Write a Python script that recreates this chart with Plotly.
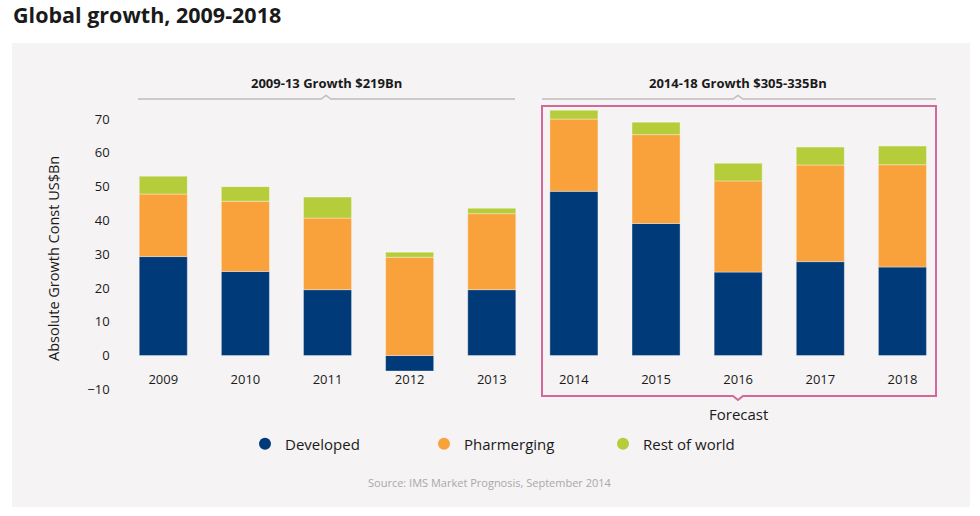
import plotly.graph_objects as go

# ---------------- data ----------------
years = ["2009", "2010", "2011", "2012", "2013", "2014", "2015", "2016", "2017", "2018"]
developed = [29.3, 24.9, 19.5, -4.6, 19.5, 48.6, 39.1, 24.7, 27.8, 26.2]
pharmerging = [18.5, 20.8, 21.2, 29.1, 22.5, 21.4, 26.3, 27.0, 28.6, 30.3]
rest_of_world = [5.3, 4.3, 6.2, 1.5, 1.6, 2.6, 3.7, 5.2, 5.3, 5.5]
series_names = ["Developed", "Pharmerging", "Rest of world"]
y_ticks = [-10, 0, 10, 20, 30, 40, 50, 60, 70]

title_text = "Global growth, 2009-2018"
left_label = "2009-13 Growth $219Bn"
right_label = "2014-18 Growth $305-335Bn"
forecast_label = "Forecast"
source_text = "Source: IMS Market Prognosis, September 2014"
y_title = "Absolute Growth Const US$Bn"

# ---------------- style ----------------
W, H = 980, 516
NAVY = "#003a78"
ORANGE = "#f9a23c"
GREEN = "#b5cd3a"
PINK = "#d1699b"
GREYLINE = "#bdbdbd"
PANEL = "#f5f3f4"
TEXT = "#1a1a1a"
FONT = "Open Sans"


def px(x):
    return x / W


def py(y):
    return 1 - y / H


fig = go.Figure()
for name, vals, col in zip(series_names, [developed, pharmerging, rest_of_world], [NAVY, ORANGE, GREEN]):
    fig.add_trace(go.Bar(
        x=years, y=vals, name=name, marker=dict(color=col, line=dict(color="rgba(255,255,255,0.45)", width=0.8)),
        showlegend=False, hovertemplate="%{x}: %{y}<extra>" + name + "</extra>",
    ))
# legend entries with round symbols
for name, col in zip(series_names, [NAVY, ORANGE, GREEN]):
    fig.add_trace(go.Scatter(
        x=[None], y=[None], mode="markers", name=name,
        marker=dict(symbol="circle", size=12, color=col), showlegend=True,
    ))

shapes = []
# panel background
shapes.append(dict(type="rect", xref="paper", yref="paper", x0=px(12), x1=px(970), y0=py(507), y1=py(43),
                   fillcolor=PANEL, line=dict(width=0), layer="below"))


def bracket(x0, x1, xc, y):
    return (f"M {px(x0)} {py(y)} L {px(xc-5)} {py(y)} L {px(xc)} {py(y-3.5)} "
            f"L {px(xc+5)} {py(y)} L {px(x1)} {py(y)}")


shapes.append(dict(type="path", xref="paper", yref="paper", path=bracket(138, 515, 326, 99),
                   line=dict(color=GREYLINE, width=1.5)))
shapes.append(dict(type="path", xref="paper", yref="paper", path=bracket(542, 936, 738, 99),
                   line=dict(color=GREYLINE, width=1.5)))
# forecast box with notch
bx0, bx1, by0, by1, bc = 542, 936, 106, 396, 738
box_path = (f"M {px(bx0)} {py(by0)} L {px(bx1)} {py(by0)} L {px(bx1)} {py(by1)} "
            f"L {px(bc+5)} {py(by1)} L {px(bc)} {py(by1+4)} L {px(bc-5)} {py(by1)} "
            f"L {px(bx0)} {py(by1)} Z")
shapes.append(dict(type="path", xref="paper", yref="paper", path=box_path, line=dict(color=PINK, width=2)))

annotations = [
    dict(text=f"<b>{left_label}</b>", x=px(326), y=py(83), xref="paper", yref="paper", showarrow=False,
         font=dict(family=FONT, size=13, color=TEXT), xanchor="center", yanchor="middle"),
    dict(text=f"<b>{right_label}</b>", x=px(738), y=py(83), xref="paper", yref="paper", showarrow=False,
         font=dict(family=FONT, size=13, color=TEXT), xanchor="center", yanchor="middle"),
    dict(text=forecast_label, x=px(738), y=py(414), xref="paper", yref="paper", showarrow=False,
         font=dict(family=FONT, size=15, color=TEXT), xanchor="center", yanchor="middle"),
    dict(text=source_text, x=px(490), y=py(482), xref="paper", yref="paper", showarrow=False,
         font=dict(family=FONT, size=11, color="#a9a9a9"), xanchor="center", yanchor="middle"),
    dict(text=y_title, x=px(53.5), y=py(258.5), xref="paper", yref="paper", showarrow=False, textangle=-90,
         font=dict(family=FONT, size=14.5, color=TEXT), xanchor="center", yanchor="middle"),
]

fig.update_layout(
    width=W, height=H,
    margin=dict(l=0, r=0, t=0, b=0),
    template="none",
    paper_bgcolor="white",
    plot_bgcolor="rgba(0,0,0,0)",
    barmode="relative",
    bargap=0.415,
    font=dict(family=FONT, color=TEXT),
    title=dict(text=f"<b>{title_text}</b>", x=px(13), xanchor="left", y=py(15), yanchor="middle",
               font=dict(family=FONT, size=21.5, color=TEXT)),
    xaxis=dict(domain=[px(122.2), px(943.5)], type="category", categoryorder="array", categoryarray=years,
               anchor="free", position=py(370), showline=False, showgrid=False, zeroline=False,
               ticks="", tickfont=dict(family=FONT, size=13, color=TEXT), automargin=False),
    yaxis=dict(domain=[py(389.3), py(102.2)], range=[-10, 75], tickvals=y_ticks, showgrid=False,
               zeroline=False, showline=False, ticks="outside", ticklen=9, tickcolor="rgba(0,0,0,0)",
               tickfont=dict(family=FONT, size=13, color=TEXT), automargin=False),
    legend=dict(orientation="h", x=px(245), y=py(444), xanchor="left", yanchor="middle",
                entrywidth=134, entrywidthmode="pixels", bgcolor="rgba(0,0,0,0)",
                font=dict(family=FONT, size=15, color=TEXT)),
    shapes=shapes,
    annotations=annotations,
)

fig.write_html("out.html", config={"displayModeBar": False},
               post_script="document.body.style.margin='0px';document.body.style.padding='0px';")
